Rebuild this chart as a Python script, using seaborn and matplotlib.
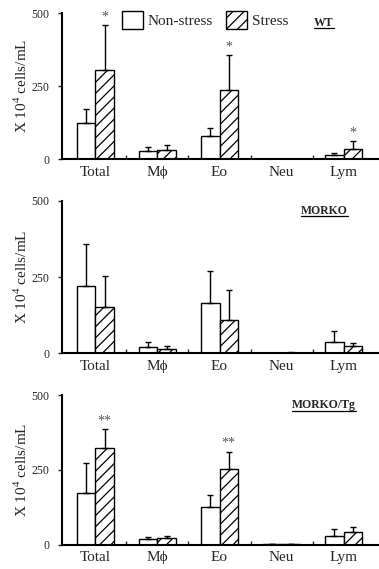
import matplotlib
matplotlib.use("Agg")
import matplotlib.pyplot as plt
import seaborn as sns
import pandas as pd
from matplotlib.patches import Patch
from matplotlib.lines import Line2D

# --- data (x 10^4 cells/mL) ---
cells = ["Total", "Mϕ", "Eo", "Neu", "Lym"]
groups = ["Non-stress", "Stress"]
panels = ["WT", "MORKO", "MORKO/Tg"]

wt_non = [125, 28, 80, 1, 16]
wt_non_sd = [46, 15, 27, 1, 5]
wt_str = [304, 31, 237, 1, 34]
wt_str_sd = [155, 19, 118, 1, 28]
wt_stars = ["*", "", "*", "", "*"]

ko_non = [220, 20, 164, 1, 38]
ko_non_sd = [140, 18, 106, 1, 34]
ko_str = [151, 15, 109, 2, 25]
ko_str_sd = [103, 9, 98, 1, 10]
ko_stars = ["", "", "", "", ""]

tg_non = [173, 17, 126, 1, 28]
tg_non_sd = [100, 9, 41, 1, 23]
tg_str = [325, 22, 253, 2, 42]
tg_str_sd = [61, 7, 59, 1, 16]
tg_stars = ["**", "", "**", "", ""]

panel_data = [
    (wt_non, wt_non_sd, wt_str, wt_str_sd, wt_stars),
    (ko_non, ko_non_sd, ko_str, ko_str_sd, ko_stars),
    (tg_non, tg_non_sd, tg_str, tg_str_sd, tg_stars),
]

sns.set_style("ticks")
plt.rcParams["font.family"] = ["Liberation Serif", "DejaVu Serif"]
plt.rcParams["mathtext.fontset"] = "custom"
plt.rcParams["mathtext.rm"] = "Liberation Serif"
plt.rcParams["hatch.linewidth"] = 0.9

fig = plt.figure(figsize=(3.79, 5.69), dpi=100)
boxes = [
    [0.163, 0.720, 0.834, 0.257],
    [0.163, 0.379, 0.834, 0.268],
    [0.163, 0.043, 0.834, 0.262],
]

name_texts = []
for i, (name, (non, non_sd, strs, str_sd, stars)) in enumerate(zip(panels, panel_data)):
    ax = fig.add_axes(boxes[i])
    df = pd.DataFrame({
        "cell": cells * 2,
        "group": [groups[0]] * len(cells) + [groups[1]] * len(cells),
        "value": non + strs,
    })
    sns.barplot(data=df, x="cell", y="value", hue="group", order=cells,
                hue_order=groups, palette=["white", "white"], width=0.6,
                errorbar=None, edgecolor="black", linewidth=1.0,
                legend=False, ax=ax)

    sds = [non_sd, str_sd]
    bar_sets = list(ax.containers)
    for k, cont in enumerate(bar_sets):
        xs = []
        for p in cont.patches:
            if k == 1:
                p.set_hatch("///")
            xs.append(p.get_x() + p.get_width() / 2)
        vals = [non, strs][k]
        ax.errorbar(xs, vals, yerr=[[0] * len(vals), sds[k]], fmt="none",
                    ecolor="black", elinewidth=1.0, capsize=2.5,
                    capthick=1.0, zorder=1)
        if k == 1:
            for x, v, e, s in zip(xs, vals, sds[k], stars):
                if s:
                    ax.text(x, v + e + 6, s, ha="center", va="bottom",
                            fontsize=10, color="#555555")

    ax.set_xlim(-0.54, 4.55)
    ax.set_ylim(0, 500)
    ax.set_yticks([0, 250, 500])
    ax.set_xlabel("")
    ax.set_ylabel("X 10$^4$ cells/mL", fontsize=11, labelpad=1)
    ax.tick_params(axis="y", labelsize=8.5, length=3, width=1.0, pad=6)
    ax.tick_params(axis="x", labelsize=11, length=0, pad=5)
    ax.set_xticks([0.5, 1.5, 2.5, 3.5], minor=True)
    ax.tick_params(axis="x", which="minor", direction="in", length=3, width=1.0)
    for s in ["top", "right"]:
        ax.spines[s].set_visible(False)
    for s in ["left", "bottom"]:
        ax.spines[s].set_linewidth(1.5)
        ax.spines[s].set_color("black")

    t = ax.text(0.83, 0.935, name, transform=ax.transAxes, ha="center",
                va="center", fontsize=8.5, fontweight="bold")
    name_texts.append(t)

    if i == 0:
        handles = [Patch(facecolor="white", edgecolor="black", linewidth=1.0),
                   Patch(facecolor="white", edgecolor="black", linewidth=1.0,
                         hatch="///")]
        ax.legend(handles, groups, loc="upper left", bbox_to_anchor=(0.17, 1.055),
                  ncol=2, frameon=False, fontsize=11, handlelength=1.4,
                  handleheight=1.4, handletextpad=0.3, columnspacing=0.85,
                  borderaxespad=0)

# underline the genotype labels
fig.canvas.draw()
inv = fig.transFigure.inverted()
for t in name_texts:
    bb = t.get_window_extent()
    (x0, y0), (x1, _) = inv.transform([[bb.x0, bb.y0], [bb.x1, bb.y1]])
    fig.add_artist(Line2D([x0, x1], [y0 + 0.001, y0 + 0.001],
                          transform=fig.transFigure, color="black", lw=0.9))

fig.savefig("out.png", dpi=100)
